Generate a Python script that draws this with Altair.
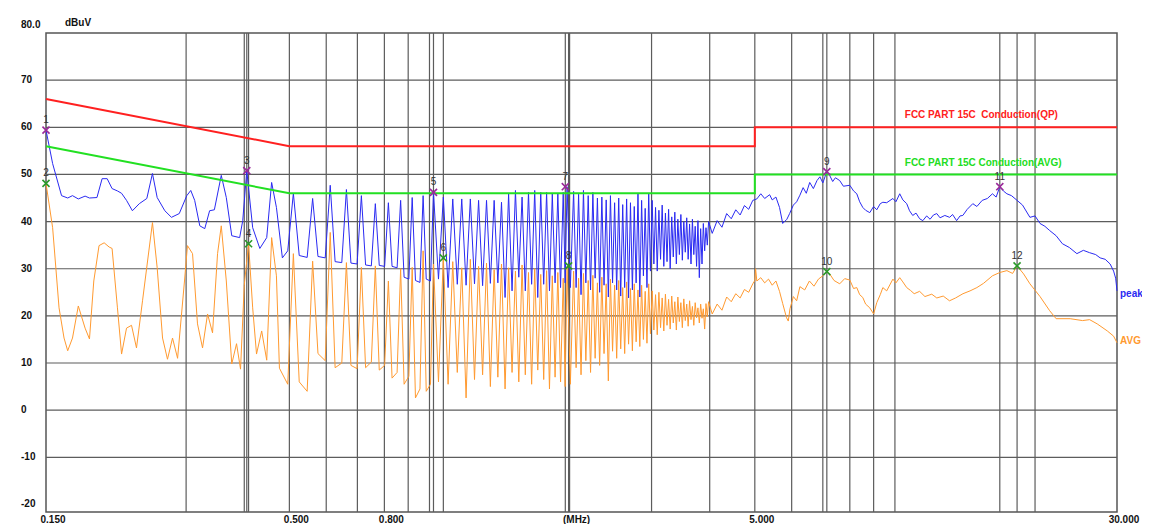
import altair as alt
import pandas as pd

# ---------------- data ----------------
# Peak trace (blue), 0.15-0.5 MHz
peak_low_f = [0.150, 0.155, 0.162, 0.167, 0.171, 0.176, 0.182, 0.186, 0.193, 0.198,
              0.203, 0.208, 0.2136, 0.218, 0.2234, 0.230, 0.238, 0.247, 0.254, 0.260,
              0.270, 0.279, 0.290, 0.301, 0.307, 0.313, 0.321, 0.329, 0.337, 0.345,
              0.357, 0.366, 0.376, 0.391, 0.397, 0.405, 0.417, 0.432, 0.447, 0.458,
              0.469, 0.483, 0.496]
peak_low_v = [59.4, 52.3, 45.5, 45.0, 45.5, 44.8, 45.4, 45.0, 45.1, 49.1,
              49.1, 47.0, 46.5, 46.0, 44.5, 42.3, 43.8, 44.9, 50.2, 45.1,
              42.3, 40.9, 41.7, 45.5, 46.6, 44.5, 39.1, 38.5, 42.3, 42.5,
              49.8, 45.1, 37.0, 36.6, 40.2, 50.8, 38.7, 34.3, 36.6, 48.3,
              43.0, 32.3, 33.8]

# Harmonic comb 0.5-4 MHz: tops and troughs
comb_top_f = [0.510, 0.561, 0.612, 0.663, 0.714, 0.765, 0.816, 0.867, 0.918, 0.969,
              1.020, 1.071, 1.122, 1.173, 1.224, 1.275, 1.326, 1.377, 1.428, 1.479,
              1.530, 1.581, 1.632, 1.683, 1.734, 1.785, 1.836, 1.887, 1.938, 1.975,
              2.040, 2.091, 2.142, 2.193, 2.244, 2.295, 2.346, 2.397, 2.448, 2.499,
              2.550, 2.601, 2.652, 2.703, 2.754, 2.805, 2.856, 2.907, 2.958, 3.009,
              3.060, 3.111, 3.162, 3.213, 3.264, 3.315, 3.366, 3.417, 3.468, 3.519,
              3.570, 3.621, 3.672, 3.723, 3.774, 3.825, 3.876, 3.927, 3.978]
comb_trough_f = [0.525, 0.546, 0.576, 0.597, 0.627, 0.648, 0.678, 0.699, 0.729, 0.750,
                 0.780, 0.801, 0.831, 0.852, 0.882, 0.903, 0.933, 0.954, 0.984, 1.005,
                 1.0455, 1.0965, 1.1475, 1.1985, 1.2495, 1.3005, 1.3515, 1.4025, 1.4535, 1.5045,
                 1.5555, 1.6065, 1.6575, 1.7085, 1.7595, 1.8105, 1.8615, 1.9125, 1.9565, 2.0075,
                 2.0655, 2.1165, 2.1675, 2.2185, 2.2695, 2.3205, 2.3715, 2.4225, 2.4735, 2.5245,
                 2.5755, 2.6265, 2.6775, 2.7285, 2.7795, 2.8305, 2.8815, 2.9325, 2.9835, 3.0345,
                 3.0855, 3.1365, 3.1875, 3.2385, 3.2895, 3.3405, 3.3915, 3.4425, 3.4935, 3.5445,
                 3.5955, 3.6465, 3.6975, 3.7485, 3.7995, 3.8505, 3.9015, 3.9525]

peak_top_v = [46.0, 44.9, 47.7, 46.8, 45.5, 43.8, 44.0, 44.5, 45.1, 45.5,
              46.2, 45.2, 44.8, 44.8, 44.8, 44.5, 44.5, 44.5, 44.1, 45.9,
              46.6, 45.2, 46.2, 46.6, 46.2, 46.2, 45.9, 45.9, 46.2, 47.4,
              46.4, 45.8, 46.6, 45.5, 46.2, 45.0, 45.2, 44.6, 45.5, 44.0,
              45.0, 43.6, 44.8, 44.0, 43.2, 45.9, 44.5, 42.8, 46.0, 44.5,
              43.0, 42.4, 43.5, 41.8, 42.6, 41.0, 42.0, 40.5, 41.5, 40.0,
              40.8, 39.5, 40.5, 39.0, 40.2, 38.5, 39.6, 38.7, 40.0]
peak_trough_v = [32.8, 32.4, 32.6, 32.3, 31.5, 31.3, 31.2, 31.0, 30.8, 30.6,
                 30.7, 30.5, 30.5, 30.2, 28.2, 27.8, 27.5, 27.1, 27.8, 27.4,
                 27.8, 26.0, 26.7, 26.5, 26.8, 26.4, 26.9, 27.0, 23.9, 25.3,
                 28.2, 25.3, 26.7, 23.9, 26.7, 25.3, 27.0, 26.0, 27.0, 26.0,
                 26.0, 24.5, 27.0, 25.5, 28.0, 25.0, 26.5, 24.0, 27.0, 25.5,
                 24.2, 26.0, 23.8, 25.5, 27.0, 24.0, 28.5, 26.0, 29.5, 31.0,
                 29.5, 32.0, 30.5, 31.5, 30.0, 32.5, 31.0, 33.0, 31.8, 33.5,
                 32.0, 31.0, 33.0, 30.5, 28.1, 31.0, 33.8, 35.0]

# Peak trace 4-30 MHz
peak_high_f = [4.05, 4.15, 4.25, 4.35, 4.45, 4.55, 4.65, 4.75, 4.85, 4.95,
               5.05, 5.15, 5.25, 5.38, 5.45, 5.55, 5.65, 5.74, 5.86, 5.94,
               6.05, 6.15, 6.25, 6.35, 6.45, 6.56, 6.68, 6.80, 6.90, 7.00,
               7.14, 7.24, 7.35, 7.45, 7.61, 7.75, 8.00, 8.15, 8.28, 8.40,
               8.53, 8.65, 8.83, 9.00, 9.14, 9.30, 9.42, 9.60, 9.90, 10.05,
               10.24, 10.40, 10.60, 10.75, 10.92, 11.10, 11.30, 11.48, 11.70, 11.90,
               12.10, 12.30, 12.50, 12.80, 13.11, 13.30, 13.57, 13.80, 13.99, 14.30,
               14.70, 15.00, 15.40, 15.80, 16.20, 16.50, 16.80, 17.10, 17.40, 17.80,
               18.30, 18.80, 19.50, 20.00, 20.50, 21.00, 21.50, 22.20, 22.90, 23.70,
               24.60, 25.40, 26.20, 27.00, 27.60, 28.30, 29.00, 29.50, 29.80, 30.00]
peak_high_v = [37.5, 40.2, 38.8, 41.7, 40.6, 42.5, 41.4, 43.4, 42.6, 44.5,
               44.8, 45.9, 44.9, 45.7, 44.6, 45.2, 43.0, 39.6, 40.5, 41.7,
               43.5, 44.2, 45.6, 47.2, 46.0, 48.3, 47.0, 48.7, 49.5, 48.2,
               50.6, 49.8, 48.5, 49.3, 48.7, 47.5, 47.7, 46.5, 45.9, 44.2,
               43.0, 42.4, 41.9, 43.2, 42.5, 43.8, 44.1, 44.0, 44.9, 44.2,
               45.9, 44.6, 43.8, 42.3, 41.3, 41.8, 40.6, 40.2, 41.2, 40.5,
               41.4, 41.7, 40.8, 41.3, 40.9, 41.5, 40.2, 41.2, 41.3, 42.6,
               43.8, 43.2, 44.5, 44.9, 45.9, 45.2, 47.4, 46.5, 45.9, 45.5,
               44.5, 43.5, 40.9, 41.2, 39.6, 39.0, 38.1, 37.0, 35.3, 34.5,
               33.2, 33.9, 33.4, 33.0, 32.3, 32.0, 31.0, 29.5, 28.0, 25.3]

# AVG trace (orange), 0.15-0.5 MHz
avg_low_f = [0.150, 0.155, 0.160, 0.164, 0.167, 0.171, 0.176, 0.182, 0.186, 0.190,
             0.195, 0.200, 0.205, 0.208, 0.2136, 0.218, 0.2234, 0.229, 0.2347, 0.2418,
             0.254, 0.260, 0.267, 0.2736, 0.2805, 0.2876, 0.2976, 0.302, 0.3097, 0.3174,
             0.3254, 0.3336, 0.3419, 0.3505, 0.357, 0.366, 0.376, 0.385, 0.3927, 0.400,
             0.4086, 0.417, 0.425, 0.436, 0.447, 0.458, 0.469, 0.476, 0.496]
avg_low_v = [48.1, 38.7, 21.7, 15.3, 12.6, 15.3, 22.1, 17.4, 15.1, 27.4,
             34.9, 35.5, 34.6, 34.3, 21.7, 11.9, 17.4, 18.0, 13.2, 23.2,
             39.8, 30.2, 15.3, 10.8, 15.3, 11.0, 27.4, 34.9, 33.2, 18.3,
             13.2, 20.4, 16.4, 33.2, 39.1, 27.4, 9.8, 14.1, 8.7, 26.5,
             35.3, 21.7, 11.9, 16.8, 10.6, 36.6, 28.5, 8.9, 5.5]

avg_top_v = [33.2, 31.6, 37.7, 31.3, 30.3, 30.6, 27.4, 30.0, 30.3, 33.8,
             31.0, 32.3, 31.5, 30.2, 32.0, 30.5, 31.2, 29.8, 31.0, 30.2,
             29.5, 30.8, 29.2, 30.0, 28.8, 29.6, 28.5, 29.2, 28.0, 30.6,
             29.5, 28.0, 29.0, 27.5, 28.6, 27.0, 28.2, 26.8, 27.8, 26.5,
             27.5, 26.0, 27.2, 25.8, 26.8, 25.5, 26.5, 25.2, 26.8, 25.3,
             24.5, 25.0, 23.8, 24.6, 23.5, 24.2, 23.0, 24.0, 22.8, 23.6,
             22.5, 23.2, 22.0, 22.8, 21.7, 22.5, 21.5, 22.6, 23.0]
avg_trough_v = [6.0, 4.0, 12.0, 10.5, 9.0, 10.0, 9.5, 8.8, 9.0, 10.2,
                8.5, 9.5, 6.8, 8.0, 5.5, 7.2, 2.6, 4.5, 4.0, 5.5,
                6.0, 5.5, 8.0, 2.6, 6.5, 7.5, 5.0, 7.0, 4.5, 8.0,
                6.0, 7.5, 5.5, 8.5, 6.5, 4.5, 7.0, 6.0, 5.0, 5.5,
                9.0, 7.5, 10.5, 8.0, 11.0, 9.5, 12.0, 6.2, 12.5, 11.0,
                13.0, 12.0, 14.0, 12.6, 14.5, 13.5, 15.0, 14.2, 16.2, 17.0,
                16.0, 17.5, 16.8, 18.0, 17.2, 18.5, 17.0, 18.8, 17.5, 19.0,
                17.8, 19.2, 18.0, 19.6, 18.5, 19.5, 17.2, 19.8]

avg_high_f = [4.05, 4.15, 4.25, 4.35, 4.45, 4.55, 4.65, 4.75, 4.85, 4.95,
              5.00, 5.02, 5.05, 5.15, 5.25, 5.35, 5.45, 5.55, 5.65, 5.74,
              5.85, 5.90, 5.95, 6.05, 6.15, 6.25, 6.40, 6.55, 6.70, 6.85,
              7.00, 7.14, 7.24, 7.40, 7.61, 7.80, 8.00, 8.15, 8.28, 8.40,
              8.53, 8.65, 8.83, 9.00, 9.14, 9.30, 9.42, 9.60, 9.90, 10.05,
              10.24, 10.40, 10.60, 10.80, 11.00, 11.30, 11.60, 12.00, 12.30, 12.70,
              13.10, 13.50, 14.00, 14.50, 15.00, 15.50, 16.20, 16.80, 17.40, 17.90,
              18.30, 18.90, 19.50, 20.50, 21.50, 22.20, 23.80, 25.30, 26.20, 27.20,
              28.60, 29.50, 30.00]
avg_high_v = [20.4, 22.5, 21.2, 24.0, 23.0, 24.7, 23.8, 25.6, 25.0, 26.8,
              27.5, 30.0, 27.4, 28.1, 27.0, 27.8, 26.5, 27.4, 25.2, 22.6,
              19.6, 18.9, 21.5, 24.1, 23.2, 26.2, 25.5, 27.4, 26.3, 27.8,
              28.5, 29.4, 28.9, 27.5, 26.8, 27.9, 27.6, 25.8, 26.0, 24.5,
              23.9, 22.5, 21.7, 20.4, 22.8, 24.5, 26.0, 25.3, 27.8, 27.0,
              28.1, 27.2, 26.0, 25.4, 24.7, 25.2, 24.1, 24.6, 23.8, 24.2,
              23.2, 23.8, 24.7, 25.3, 26.0, 26.9, 28.5, 29.2, 29.6, 29.0,
              30.6, 28.9, 26.8, 24.1, 21.1, 19.4, 19.4, 19.0, 19.2, 18.3,
              16.8, 15.7, 14.3]

# Limit lines
qp_lim_f = [0.15, 0.5, 5.0, 5.0, 30.0]
qp_lim_v = [66.0, 56.0, 56.0, 60.0, 60.0]
av_lim_f = [0.15, 0.5, 5.0, 5.0, 30.0]
av_lim_v = [56.0, 46.0, 46.0, 50.0, 50.0]

# Markers (odd = peak detector, even = average detector)
peak_marker_id = ["1", "3", "5", "7", "9", "11"]
peak_marker_f = [0.150, 0.405, 1.020, 1.958, 7.14, 16.8]
peak_marker_v = [59.4, 50.8, 46.2, 47.4, 50.6, 47.4]
avg_marker_id = ["2", "4", "6", "8", "10", "12"]
avg_marker_f = [0.150, 0.4086, 1.071, 1.99, 7.14, 18.3]
avg_marker_v = [48.1, 35.3, 32.3, 30.6, 29.4, 30.6]

# Grid / ticks
grid_f = [0.3, 0.4, 0.5, 0.6, 0.7, 0.8, 0.9, 1, 2, 3, 4, 5, 6, 7, 8, 9, 10, 20]
marker_line_f = [0.405, 0.4086, 1.020, 1.071, 1.958, 1.99, 7.14, 16.8, 18.3]
grid_db = [70, 60, 50, 40, 30, 20, 10, 0, -10]
y_tick_v = [70, 60, 50, 40, 30, 20, 10, 0, -10, -20]
y_tick_labels = ["70", "60", "50", "40", "30", "20", "10", "0", "-10", "-20"]
x_tick_f = [0.15, 0.5, 0.8, 2.0, 5.0, 30.0]
x_tick_labels = ["0.150", "0.500", "0.800", "(MHz)", "5.000", "30.000"]

# ---------------- build tables ----------------
peak_df = pd.concat([
    pd.DataFrame({"f": peak_low_f, "v": peak_low_v}),
    pd.DataFrame({"f": comb_top_f, "v": peak_top_v}),
    pd.DataFrame({"f": comb_trough_f, "v": peak_trough_v}),
    pd.DataFrame({"f": peak_high_f, "v": peak_high_v}),
]).sort_values("f").reset_index(drop=True)

avg_df = pd.concat([
    pd.DataFrame({"f": avg_low_f, "v": avg_low_v}),
    pd.DataFrame({"f": comb_top_f, "v": avg_top_v}),
    pd.DataFrame({"f": comb_trough_f, "v": avg_trough_v}),
    pd.DataFrame({"f": avg_high_f, "v": avg_high_v}),
]).sort_values("f").reset_index(drop=True)

qp_df = pd.DataFrame({"f": qp_lim_f, "v": qp_lim_v, "i": range(len(qp_lim_f))})
av_df = pd.DataFrame({"f": av_lim_f, "v": av_lim_v, "i": range(len(av_lim_f))})
pk_mk_df = pd.DataFrame({"f": peak_marker_f, "v": peak_marker_v, "id": peak_marker_id})
av_mk_df = pd.DataFrame({"f": avg_marker_f, "v": avg_marker_v, "id": avg_marker_id})
vgrid_df = pd.DataFrame({"f": grid_f + marker_line_f})
hgrid_df = pd.DataFrame({"v": grid_db})
ytick_df = pd.DataFrame({"v": y_tick_v, "t": y_tick_labels})
xtick_df = pd.DataFrame({"f": x_tick_f, "t": x_tick_labels})

FONT = "Liberation Sans"
GRID = "#5c5c5c"
BLUE = "#2a2af2"
ORANGE = "#ff9a30"
RED = "#ff2020"
LIME = "#22e022"

xs = alt.Scale(type="log", domain=[0.15, 30], nice=False)
ys = alt.Scale(domain=[-21.6, 80], nice=False, zero=False)


def X():
    return alt.X("f:Q", scale=xs, axis=None)


def Y():
    return alt.Y("v:Q", scale=ys, axis=None)


def label_text(f, v, t, color, **kw):
    return alt.Chart(pd.DataFrame({"f": [f], "v": [v], "t": [t]})).mark_text(
        font=FONT, fontSize=10, fontWeight="bold", color=color, **kw).encode(
        x=X(), y=Y(), text="t:N")


hgrid = alt.Chart(hgrid_df).mark_rule(color=GRID, strokeWidth=1.2).encode(y=Y())
vgrid = alt.Chart(vgrid_df).mark_rule(color=GRID, strokeWidth=1.2).encode(x=X())

avg_line = alt.Chart(avg_df).mark_line(color=ORANGE, strokeWidth=1).encode(x=X(), y=Y())
peak_line = alt.Chart(peak_df).mark_line(color=BLUE, strokeWidth=1).encode(x=X(), y=Y())

qp_line = alt.Chart(qp_df).mark_line(color=RED, strokeWidth=2).encode(
    x=X(), y=Y(), order=alt.Order("i:Q"))
av_line = alt.Chart(av_df).mark_line(color=LIME, strokeWidth=2).encode(
    x=X(), y=Y(), order=alt.Order("i:Q"))

qp_txt = label_text(10.5, 62.6, "FCC PART 15C\u00a0 Conduction(QP)", RED,
                    align="left", baseline="middle")
av_txt = label_text(10.5, 52.4, "FCC PART 15C Conduction(AVG)", "#22dd22",
                    align="left", baseline="middle")

XSHAPE = "M-1,-1L1,1M-1,1L1,-1"
pk_markers = alt.Chart(pk_mk_df).mark_point(
    shape=XSHAPE, filled=False, strokeWidth=1.6, size=50, color="#9a2a9a", opacity=1).encode(x=X(), y=Y())
av_markers = alt.Chart(av_mk_df).mark_point(
    shape=XSHAPE, filled=False, strokeWidth=1.6, size=50, color="#2a9a2a", opacity=1).encode(x=X(), y=Y())
pk_lbl = alt.Chart(pk_mk_df).mark_text(
    dy=-10, font=FONT, fontSize=10, color="#333333").encode(x=X(), y=Y(), text="id:N")
av_lbl = alt.Chart(av_mk_df).mark_text(
    dy=-10, font=FONT, fontSize=10, color="#333333").encode(x=X(), y=Y(), text="id:N")

peak_name = label_text(30.0, 24.7, "peak", BLUE, align="left", baseline="middle", dx=3)
avg_name = label_text(30.0, 14.7, "AVG", ORANGE, align="left", baseline="middle", dx=3)

y_lbl = alt.Chart(ytick_df).mark_text(
    align="left", baseline="middle", font=FONT, fontSize=10, fontWeight="bold", color="#111").encode(
    x=alt.value(-25), y=Y(), text="t:N")
y_top = alt.Chart(pd.DataFrame({"v": [80], "t": ["80.0"]})).mark_text(
    align="left", baseline="middle", dy=-8, font=FONT, fontSize=10, fontWeight="bold", color="#111").encode(
    x=alt.value(-25), y=Y(), text="t:N")
unit = alt.Chart(pd.DataFrame({"v": [80], "t": ["dBuV"]})).mark_text(
    align="left", baseline="middle", dy=-10, font=FONT, fontSize=10, fontWeight="bold", color="#111").encode(
    x=alt.value(19), y=Y(), text="t:N")
x_lbl = alt.Chart(xtick_df).mark_text(
    align="center", baseline="middle", dx=7, font=FONT, fontSize=10, fontWeight="bold", color="#111").encode(
    x=X(), y=alt.value(487), text="t:N")

chart = alt.layer(
    hgrid, vgrid, avg_line, peak_line, qp_line, av_line, qp_txt, av_txt,
    pk_markers, av_markers, pk_lbl, av_lbl, peak_name, avg_name,
    y_lbl, y_top, unit, x_lbl
).properties(
    width=1071, height=479,
    autosize=alt.AutoSizeParams(type="none"),
    padding={"left": 38, "top": 25, "right": 25, "bottom": 12},
    background="white",
).configure_view(stroke="#555555", strokeWidth=1.5)

chart.save("out.html", embed_options={"renderer": "svg", "actions": False})
